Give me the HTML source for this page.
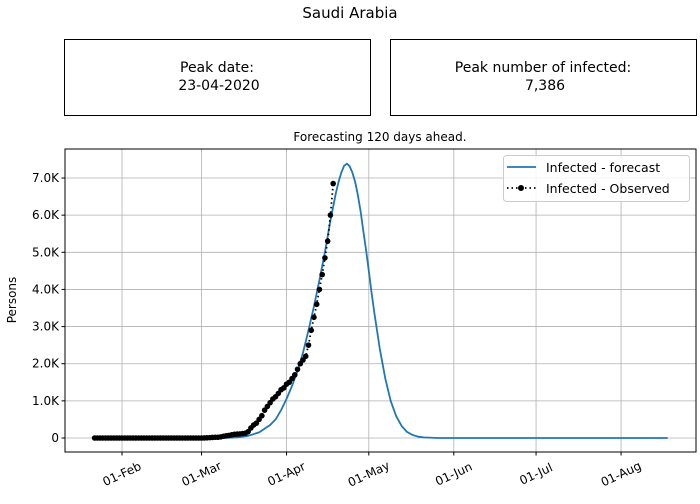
<!DOCTYPE html>
<html><head><meta charset="utf-8"><style>
body{margin:0;background:#fff;font-family:"DejaVu Sans","Liberation Sans",sans-serif}
</style></head><body>
<svg id="c" width="700" height="500" xmlns="http://www.w3.org/2000/svg" font-family="DejaVu Sans, Liberation Sans, sans-serif">
<rect width="700" height="500" fill="#fff"/>
<text x="350" y="18" text-anchor="middle" font-size="15">Saudi Arabia</text>
<rect x="64.5" y="39.5" width="306" height="76" fill="#fff" stroke="#000"/>
<text x="217" y="72" text-anchor="middle" font-size="14">Peak date:</text>
<text x="219" y="90" text-anchor="middle" font-size="14">23-04-2020</text>
<rect x="390.5" y="39.5" width="306" height="76" fill="#fff" stroke="#000"/>
<text x="543" y="72" text-anchor="middle" font-size="14">Peak number of infected:</text>
<text x="545" y="90" text-anchor="middle" font-size="14">7,386</text>
<text x="380" y="141" text-anchor="middle" font-size="12">Forecasting 120 days ahead.</text>
<g id="grid"></g><g id="marks"></g><g id="axes"></g>
<text transform="translate(16,300) rotate(-90)" text-anchor="middle" font-size="12">Persons</text>
<g>
<rect x="503.5" y="155.5" width="186" height="46" rx="3" fill="#fff" fill-opacity="0.85" stroke="#ccc"/>
<line x1="507" y1="167" x2="536" y2="167" stroke="#1f77b4" stroke-width="1.8"/>
<text x="546" y="172" font-size="12.5">Infected - forecast</text>
<line x1="507" y1="188" x2="536" y2="188" stroke="#000" stroke-width="1.8" stroke-dasharray="1.5,3"/>
<circle cx="521" cy="188" r="3" fill="#000"/>
<text x="546" y="193" font-size="12.5">Infected - Observed</text>
</g>
</svg>
<script>
// days since 22-Jan-2020
const obsValues=[0,0,0,0,0,0,0,0,0,0,0,0,0,0,0,0,0,0,0,0,0,0,0,0,0,0,0,0,0,0,0,0,0,0,0,0,0,0,0,0,
2,5,10,15,20,20,30,45,60,70,85,100,105,110,120,130,170,270,350,400,500,600,750,850,950,1050,1110,1200,1300,1350,1450,1500,1600,1700,1850,2000,2100,2200,2500,2900,3250,3600,4000,4400,4850,5300,6000,6850];
const fcDays=[0,30,40,48,52,56,60,64,66,68,70,72,74,76,78,80,82,84,86,88,89,90,91,92,93,94,95,96,97,98,99,100,101,102,104,106,108,110,112,114,116,118,120,125,130,209];
const fcValues=[0,0,2,5,20,60,150,350,500,750,1050,1400,1800,2300,2900,3550,4250,5000,5850,6600,6900,7150,7330,7386,7320,7150,6900,6550,6100,5575,5050,4500,3922,3380,2398,1600,1000,588,320,160,82,35,16,1,0,0];
const yTicks=[0,1000,2000,3000,4000,5000,6000,7000];
const yTickLabels=["0","1.0K","2.0K","3.0K","4.0K","5.0K","6.0K","7.0K"];
const xTickDays=[10,39,70,100,131,161,192];
const xTickLabels=["01-Feb","01-Mar","01-Apr","01-May","01-Jun","01-Jul","01-Aug"];
const L=65,R=696,T=149,B=452;
const xs=d=>94.6+2.742*d, ys=v=>438-v*0.03714;
const NS="http://www.w3.org/2000/svg";
function mk(parent,tag,attrs){const e=document.createElementNS(NS,tag);for(const k in attrs)e.setAttribute(k,attrs[k]);document.getElementById(parent).appendChild(e);return e;}
yTicks.forEach((v,i)=>{
 const g=mk('grid','line',{x1:L,x2:R,y1:ys(v),y2:ys(v),stroke:'#b0b0b0','stroke-width':0.8});
 
 
 mk('axes','line',{x1:L-3.5,x2:L,y1:ys(v),y2:ys(v),stroke:'#000'});
 const t=mk('axes','text',{x:L-6,y:ys(v)+4,'text-anchor':'end','font-size':12});
 t.textContent=yTickLabels[i];
 
 
});
xTickDays.forEach((d,i)=>{
 const x=xs(d);
 const g=mk('grid','line',{x1:x,x2:x,y1:T,y2:B,stroke:'#b0b0b0','stroke-width':0.8});
 
 
 mk('axes','line',{x1:x,x2:x,y1:B,y2:B+3.5,stroke:'#000'});
 const cy=B+22;
 const t=mk('axes','text',{x:x,y:cy+4,'text-anchor':'middle','font-size':12,transform:`rotate(-25 ${x} ${cy})`});
 t.textContent=xTickLabels[i];
 
 
});
const fc=mk('marks','path',{d:fcDays.map((d,i)=>(i?'L':'M')+xs(d).toFixed(1)+','+ys(fcValues[i]).toFixed(1)).join(''),fill:'none',stroke:'#1f77b4','stroke-width':1.8,'stroke-linejoin':'round'});


const ob=mk('marks','path',{d:obsValues.map((v,i)=>(i?'L':'M')+xs(i).toFixed(1)+','+ys(v).toFixed(1)).join(''),fill:'none',stroke:'#000','stroke-width':1.8,'stroke-dasharray':'1.5,3'});


obsValues.forEach((v,i)=>{
 const c=mk('marks','circle',{cx:xs(i),cy:ys(v),r:2.8,fill:'#000'});
 
 
});
const fr=mk('axes','rect',{x:L,y:T,width:R-L,height:B-T,fill:'none',stroke:'#000','stroke-width':1});


</script>
</body></html>
